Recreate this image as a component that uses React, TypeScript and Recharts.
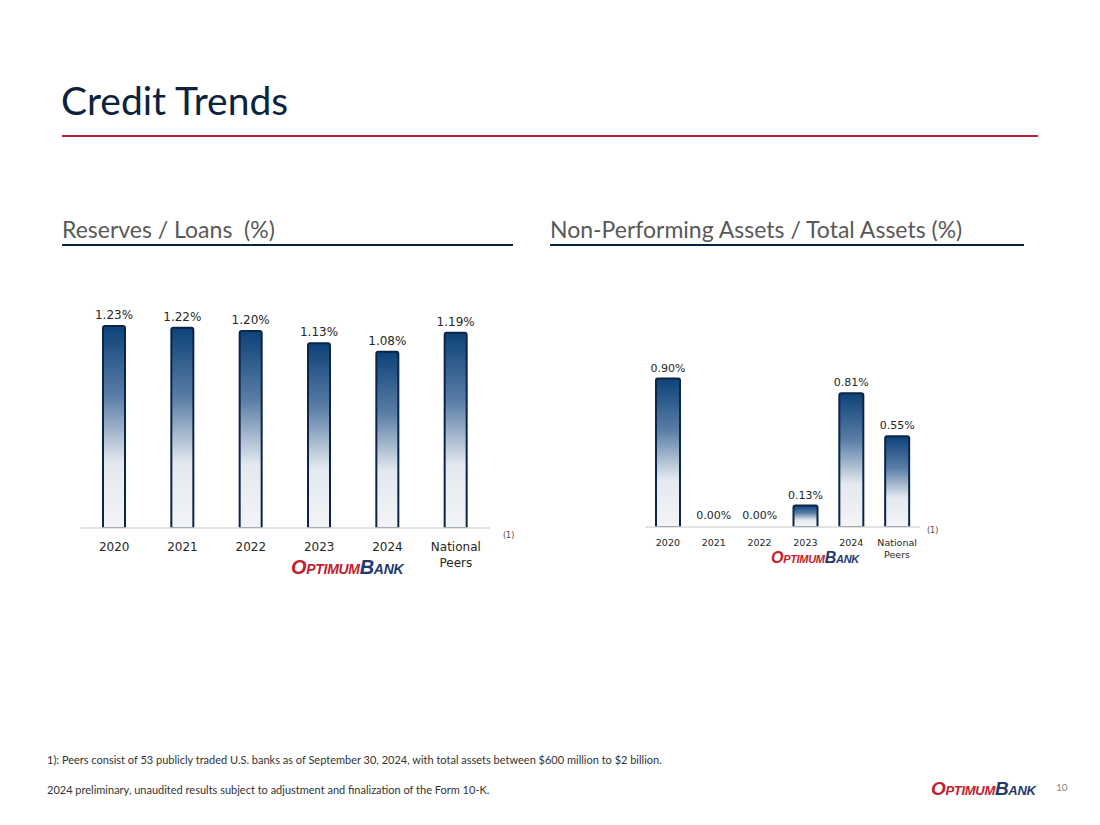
import React from "react";
import { BarChart, Bar, XAxis, YAxis, LabelList, Rectangle } from "recharts";

const categories = ["2020", "2021", "2022", "2023", "2024", "National Peers"];
const reservesToLoans = [1.23, 1.22, 1.2, 1.13, 1.08, 1.19];
const npaToAssets = [0.9, 0.0, 0.0, 0.13, 0.81, 0.55];

const NAVY = "#0c2340";
const CHART_FONT = "'DejaVu Sans', Verdana, sans-serif";
const TEXT_FONT = "Lato, 'Open Sans', sans-serif";

const reservesData = categories.map((c, i) => ({ name: c, value: reservesToLoans[i] }));
const npaData = categories.map((c, i) => ({ name: c, value: npaToAssets[i] }));

function makeTick(fontSize: number, firstDy: number) {
  return function Tick(props: any) {
    const { x, y, payload } = props;
    const lines = String(payload.value).split(" ");
    return (
      <text
        x={x}
        y={y}
        textAnchor="middle"
        fill="#262626"
        fontSize={fontSize}
        fontFamily={CHART_FONT}
      >
        {lines.map((l, i) => (
          <tspan key={i} x={x} dy={i === 0 ? firstDy : fontSize * 1.3}>
            {l}
          </tspan>
        ))}
      </text>
    );
  };
}

// zero values still get a label, but no visible bar
function BarShape(props: any) {
  if (!props.payload || props.payload.value <= 0) return <g />;
  return <Rectangle {...props} />;
}

function Logo(props: { left: number; top: number; size: number }) {
  return (
    <div
      style={{
        position: "absolute",
        left: props.left,
        top: props.top,
        fontFamily: "'Liberation Sans', Arial, sans-serif",
        fontWeight: 700,
        fontStyle: "italic",
        fontVariant: "small-caps",
        fontSize: props.size,
        letterSpacing: -0.3,
        lineHeight: 1,
        whiteSpace: "nowrap",
      }}
    >
      <span style={{ color: "#c4202f" }}>Optimum</span>
      <span style={{ color: "#1f3a6e" }}>Bank</span>
    </div>
  );
}

function Gradient({ id }: { id: string }) {
  return (
    <defs>
      <linearGradient id={id} x1="0" y1="0" x2="0" y2="1">
        <stop offset="0%" stopColor="#0d4278" />
        <stop offset="35%" stopColor="#5a7ea6" />
        <stop offset="68%" stopColor="#e4e9ef" />
        <stop offset="100%" stopColor="#f3f4f6" />
      </linearGradient>
    </defs>
  );
}

const pct = (v: any) => `${Number(v).toFixed(2)}%`;

export default function App() {
  return (
    <div
      style={{
        position: "absolute",
        left: 0,
        top: 0,
        width: 1100,
        height: 825,
        background: "#fff",
        overflow: "hidden",
      }}
    >
      <div
        style={{
          position: "absolute",
          left: 61,
          top: 77,
          fontFamily: TEXT_FONT,
          fontSize: 39,
          color: NAVY,
          lineHeight: 1.2,
          whiteSpace: "nowrap",
        }}
      >
        Credit Trends
      </div>
      <div style={{ position: "absolute", left: 62, top: 135, width: 976, height: 2, background: "#b5212f" }} />

      <div
        style={{
          position: "absolute",
          left: 62,
          top: 215,
          fontFamily: TEXT_FONT,
          fontSize: 23,
          color: "#595959",
          whiteSpace: "pre",
          lineHeight: 1.3,
        }}
      >
        {"Reserves / Loans  (%)"}
      </div>
      <div style={{ position: "absolute", left: 62, top: 244, width: 451, height: 2, background: NAVY }} />

      <div
        style={{
          position: "absolute",
          left: 550,
          top: 215,
          fontFamily: TEXT_FONT,
          fontSize: 23,
          color: "#595959",
          whiteSpace: "pre",
          lineHeight: 1.3,
        }}
      >
        Non-Performing Assets / Total Assets (%)
      </div>
      <div style={{ position: "absolute", left: 550, top: 244, width: 474, height: 2, background: NAVY }} />

      <div style={{ position: "absolute", left: 70, top: 280 }}>
        <BarChart
          width={430}
          height={298}
          data={reservesData}
          margin={{ top: 20, right: 10, left: 10, bottom: 0 }}
          barCategoryGap={0}
        >
          <Gradient id="gradLeft" />
          <XAxis
            dataKey="name"
            height={50}
            interval={0}
            tickLine={false}
            axisLine={{ stroke: "#d9d9d9", strokeWidth: 1.5 }}
            tick={makeTick(12, 15)}
          />
          <YAxis hide domain={[0.06, 1.38]} allowDataOverflow />
          <Bar
            dataKey="value"
            barSize={22}
            fill="url(#gradLeft)"
            stroke="#0a2548"
            strokeWidth={2}
            radius={[2, 2, 0, 0]}
            isAnimationActive={false}
          >
            <LabelList
              dataKey="value"
              position="top"
              offset={7}
              formatter={pct}
              fill="#262626"
              fontSize={12}
              fontFamily={CHART_FONT}
            />
          </Bar>
        </BarChart>
      </div>
      <div style={{ position: "absolute", left: 503, top: 531, fontFamily: CHART_FONT, fontSize: 8, color: "#444" }}>
        (1)
      </div>
      <Logo left={291} top={557} size={20} />

      <div style={{ position: "absolute", left: 635, top: 342 }}>
        <BarChart
          width={295}
          height={225}
          data={npaData}
          margin={{ top: 20, right: 10, left: 10, bottom: 0 }}
          barCategoryGap={0}
        >
          <Gradient id="gradRight" />
          <XAxis
            dataKey="name"
            height={40}
            interval={0}
            tickLine={false}
            axisLine={{ stroke: "#d9d9d9", strokeWidth: 1.5 }}
            tick={makeTick(9.5, 11)}
          />
          <YAxis hide domain={[0, 1.0]} allowDataOverflow />
          <Bar
            dataKey="value"
            barSize={24}
            minPointSize={1}
            shape={BarShape}
            fill="url(#gradRight)"
            stroke="#0a2548"
            strokeWidth={2}
            radius={[2, 2, 0, 0]}
            isAnimationActive={false}
          >
            <LabelList
              dataKey="value"
              position="top"
              offset={7}
              formatter={pct}
              fill="#262626"
              fontSize={11}
              fontFamily={CHART_FONT}
            />
          </Bar>
        </BarChart>
      </div>
      <div style={{ position: "absolute", left: 927, top: 526, fontFamily: CHART_FONT, fontSize: 8, color: "#444" }}>
        (1)
      </div>
      <Logo left={771} top={550} size={16} />

      <div
        style={{
          position: "absolute",
          left: 47,
          top: 753,
          fontFamily: TEXT_FONT,
          fontSize: 11,
          color: "#333",
          whiteSpace: "nowrap",
        }}
      >
        1): Peers consist of 53 publicly traded U.S. banks as of September 30, 2024, with total assets between $600 million to $2 billion.
      </div>
      <div
        style={{
          position: "absolute",
          left: 47,
          top: 783,
          fontFamily: TEXT_FONT,
          fontSize: 11,
          color: "#333",
          whiteSpace: "nowrap",
        }}
      >
        2024 preliminary, unaudited results subject to adjustment and finalization of the Form 10-K.
      </div>
      <Logo left={931} top={779} size={19} />
      <div
        style={{
          position: "absolute",
          left: 1056,
          top: 781,
          fontFamily: TEXT_FONT,
          fontSize: 10,
          color: "#888",
        }}
      >
        10
      </div>
    </div>
  );
}
